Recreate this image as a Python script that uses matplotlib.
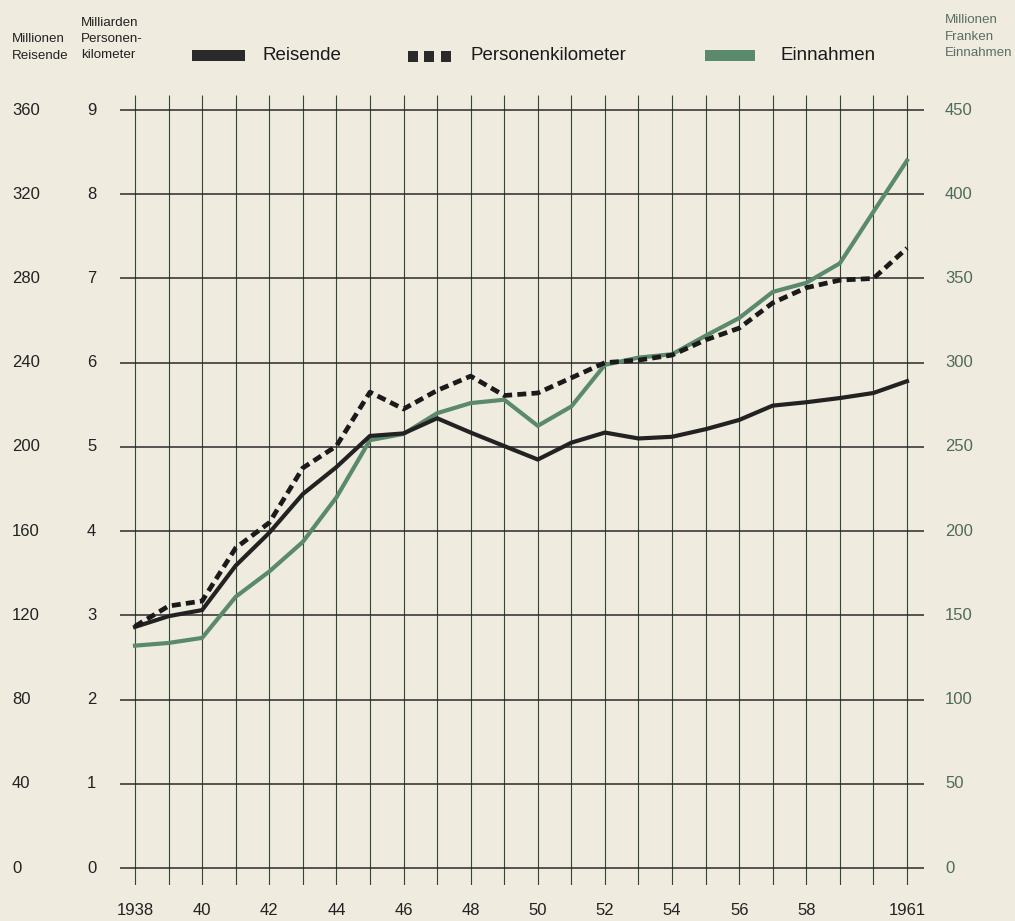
import numpy as np
import matplotlib.pyplot as plt
from matplotlib.patches import Rectangle

# data
years = np.arange(1938, 1962)
reisende = [114.5, 119.6, 122.5, 143.6, 159.2, 177.6, 190.4, 205.2, 206.4, 213.6,
            206.8, 200.4, 194.0, 202.0, 206.8, 204.0, 204.8, 208.4, 212.8, 219.6,
            221.2, 223.2, 225.6, 231.2]  # Millionen Reisende
personenkm = [2.87, 3.11, 3.17, 3.80, 4.10, 4.75, 5.01, 5.65, 5.45, 5.67,
              5.84, 5.61, 5.64, 5.82, 6.00, 6.03, 6.09, 6.27, 6.41, 6.71,
              6.89, 6.98, 7.00, 7.36]  # Milliarden Personenkilometer
einnahmen = [132.0, 133.6, 136.6, 161.0, 176.0, 193.6, 220.0, 254.0, 257.7, 270.0,
             276.0, 278.0, 262.5, 274.0, 298.7, 303.0, 305.0, 316.0, 326.5, 342.0,
             347.4, 359.0, 389.6, 420.0]  # Millionen Franken

left_ticks_r = [0, 40, 80, 120, 160, 200, 240, 280, 320, 360]
left_ticks_p = [0, 1, 2, 3, 4, 5, 6, 7, 8, 9]
right_ticks_e = [0, 50, 100, 150, 200, 250, 300, 350, 400, 450]
year_labels = {1938: "1938", 1940: "40", 1942: "42", 1944: "44", 1946: "46",
               1948: "48", 1950: "50", 1952: "52", 1954: "54", 1956: "56",
               1958: "58", 1961: "1961"}

bg = "#efebdf"
green = "#5a8a6b"
green_txt = "#4e6a5a"
dark = "#222222"
font = ["Liberation Sans", "DejaVu Sans"]

W, H = 1015, 921
fig = plt.figure(figsize=(W / 100, H / 100), dpi=100, facecolor=bg)

# axes in pixel terms: x 120..924, y 95..885 ; value 0 at 868, 9 at 110
x0, x1 = 120, 924
ytop, ybot = 95, 885
ax = fig.add_axes([x0 / W, 1 - ybot / H, (x1 - x0) / W, (ybot - ytop) / H])
ax.set_facecolor(bg)
px_per_unit = (868 - 110) / 9
ax.set_ylim(-(885 - 868) / px_per_unit, (868 - 95) / px_per_unit)
px_per_year = (907 - 135) / 23
ax.set_xlim(1938 - (135 - x0) / px_per_year, 1961 + (x1 - 907) / px_per_year)
for s in ax.spines.values():
    s.set_visible(False)
ax.set_xticks([])
ax.set_yticks([])

xl = ax.get_xlim()
yl = ax.get_ylim()
ax.vlines(years, yl[0], yl[1], color="#34443a", lw=0.8, zorder=1)
ax.hlines(left_ticks_p, xl[0], xl[1], color="#2a2a2a", lw=1.1, zorder=1)

# all series drawn on the 0..9 scale (40 Reisende / 50 Mio Fr per unit)
r = np.array(reisende) / 40
e = np.array(einnahmen) / 50
ax.plot(years, e, color=green, lw=3.0, zorder=3, solid_joinstyle="miter")
ax.plot(years, r, color=dark, lw=3.0, zorder=4, solid_joinstyle="miter")
ax.plot(years, personenkm, color="#1a1a1a", lw=3.4, zorder=5,
        linestyle=(0, (1.9, 1.1)), dash_capstyle="butt")

# tick labels
for rv, pv, ev in zip(left_ticks_r, left_ticks_p, right_ticks_e):
    ypix = 868 - pv * px_per_unit
    fig.text(12 / W, 1 - ypix / H, str(rv), ha="left", va="center",
             fontsize=12, family=font, color=dark)
    fig.text(87 / W, 1 - ypix / H, str(pv), ha="left", va="center",
             fontsize=12, family=font, color=dark)
    fig.text(945 / W, 1 - ypix / H, str(ev), ha="left", va="center",
             fontsize=12, family=font, color=green_txt)
for yr, lab in year_labels.items():
    ax.text(yr, -(910 - 868) / px_per_unit, lab, ha="center", va="center",
            fontsize=12, family=font, color=dark, clip_on=False)

# axis headers
hdr = dict(fontsize=9.6, family=font, va="center", ha="left", linespacing=1.5)
fig.text(12 / W, 1 - 47.5 / H, "Millionen\nReisende", color=dark, **hdr)
fig.text(81 / W, 1 - 39 / H, "Milliarden\nPersonen-\nkilometer", color=dark, **hdr)
fig.text(945 / W, 1 - 36.5 / H, "Millionen\nFranken\nEinnahmen", color="#5a6e63", **hdr)

# legend
def rect(x, y, w, h, c):
    fig.patches.append(Rectangle((x / W, 1 - (y + h) / H), w / W, h / H,
                                 transform=fig.transFigure, color=c, lw=0))

rect(192, 50, 53, 11, "#2a2a2a")
fig.text(263 / W, 1 - 56 / H, "Reisende", fontsize=13.5, family=font,
         va="center", ha="left", color="#1a1a1a")
for sx in (408, 424, 441):
    rect(sx, 51, 10, 11, "#2a2a2a")
fig.text(471 / W, 1 - 56 / H, "Personenkilometer", fontsize=13.5, family=font,
         va="center", ha="left", color="#1a1a1a")
rect(705, 50, 50, 11, green)
fig.text(781 / W, 1 - 56 / H, "Einnahmen", fontsize=13.5, family=font,
         va="center", ha="left", color="#1a1a1a")

fig.savefig("out.png", dpi=100, facecolor=bg)
